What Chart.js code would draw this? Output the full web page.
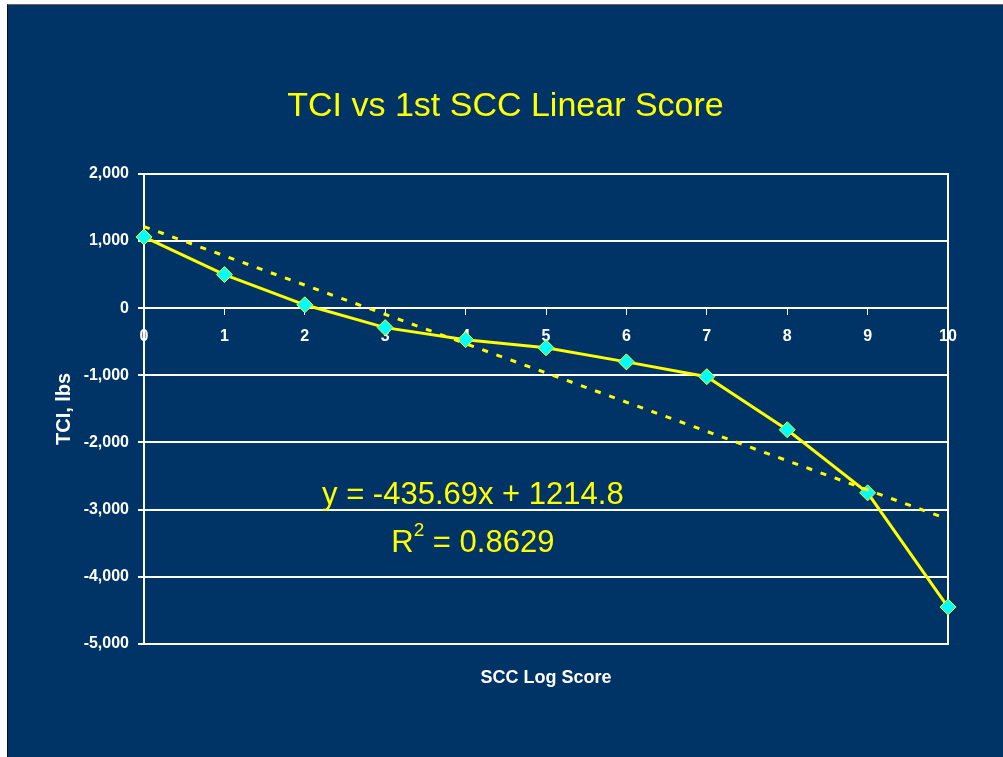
<!DOCTYPE html>
<html>
<head>
<meta charset="utf-8">
<title>TCI vs 1st SCC Linear Score</title>
<script src="https://cdn.jsdelivr.net/npm/chart.js@4.4.1/dist/chart.umd.min.js"></script>
<style>
    html, body { margin: 0; padding: 0; background: #ffffff; overflow: hidden; }
    #slide {
        position: absolute;
        left: 7px;
        top: 4px;
        width: 995px;
        height: 752px;
        background: #003366;
        border-left: 1px solid #111111;
        border-top: 1px solid #666666;
    }
    #chart { display: block; }
</style>
</head>
<body>
<div id="slide">
    <canvas id="chart" width="995" height="752"></canvas>
</div>
<script>
// SCC log score categories
const sccScores = [0, 1, 2, 3, 4, 5, 6, 7, 8, 9, 10];
// TCI (lbs)
const tciValues = [1060, 500, 50, -290, -470, -590, -800, -1020, -1810, -2750, -4450];
// Linear trendline endpoints (y = -435.69x + 1214.8)
const trendX = [0, 10];
const trendY = [1214.8, -3142.1];
// Axis ticks
const yTicks = [2000, 1000, 0, -1000, -2000, -3000, -4000, -5000];

const colors = {
    bg: '#003366',
    yellow: '#FFFF00',
    cyan: '#00FFFF',
    white: '#FFFFFF'
};

const fontFamily = '"Liberation Sans", Arial, sans-serif';

// Draws the x-axis title and the regression equation
const annotations = {
    id: 'annotations',
    afterDraw(chart) {
        const { ctx, scales, chartArea } = chart;
        ctx.save();
        ctx.fillStyle = colors.white;
        ctx.textAlign = 'center';
        ctx.textBaseline = 'middle';
        ctx.font = 'bold 18px ' + fontFamily;
        ctx.fillText('SCC Log Score', (chartArea.left + chartArea.right) / 2, 673);

        const cx = scales.x.getPixelForValue(4.09);
        ctx.fillStyle = colors.yellow;
        ctx.font = '31px ' + fontFamily;
        ctx.fillText('y = -435.69x + 1214.8', cx, scales.y.getPixelForValue(-2790));

        // R squared with superscript
        const y2 = scales.y.getPixelForValue(-3500);
        const left = 'R', rest = ' = 0.8629';
        ctx.font = '31px ' + fontFamily;
        const wL = ctx.measureText(left).width;
        const wR = ctx.measureText(rest).width;
        ctx.font = '19px ' + fontFamily;
        const wS = ctx.measureText('2').width;
        const start = cx - (wL + wS + wR) / 2;
        ctx.textAlign = 'left';
        ctx.font = '31px ' + fontFamily;
        ctx.fillText(left, start, y2);
        ctx.fillText(rest, start + wL + wS, y2);
        ctx.font = '19px ' + fontFamily;
        ctx.fillText('2', start + wL, y2 - 12);
        ctx.restore();
    }
};

const ctx = document.getElementById('chart').getContext('2d');

new Chart(ctx, {
    type: 'scatter',
    data: {
        datasets: [
            {
                label: 'TCI',
                data: sccScores.map((x, i) => ({ x, y: tciValues[i] })),
                showLine: true,
                borderColor: colors.yellow,
                borderWidth: 3,
                pointStyle: 'rectRot',
                pointRadius: 8,
                pointBackgroundColor: colors.cyan,
                pointBorderColor: colors.yellow,
                pointBorderWidth: 1,
                clip: false,
                order: 1
            },
            {
                label: 'Linear trend',
                data: trendX.map((x, i) => ({ x, y: trendY[i] })),
                showLine: true,
                borderColor: colors.yellow,
                borderWidth: 3,
                borderDash: [6, 9],
                pointRadius: 0,
                order: 0
            }
        ]
    },
    options: {
        responsive: false,
        animation: false,
        layout: {
            padding: { top: 0, bottom: 113, left: 0, right: 0 }
        },
        plugins: {
            legend: { display: false },
            tooltip: { enabled: false },
            title: {
                display: true,
                text: 'TCI vs 1st SCC Linear Score',
                color: colors.yellow,
                font: { family: fontFamily, size: 34, weight: 'normal' },
                padding: { top: 81, bottom: 47 }
            }
        },
        scales: {
            x: {
                type: 'linear',
                position: { y: 0 },
                min: 0,
                max: 10,
                ticks: {
                    stepSize: 1,
                    color: colors.white,
                    font: { family: fontFamily, size: 16, weight: 'bold' },
                    padding: 13,
                    maxRotation: 0
                },
                grid: {
                    drawOnChartArea: false,
                    drawTicks: true,
                    tickLength: 6,
                    color: colors.white,
                    lineWidth: 1
                },
                border: { display: true, color: colors.white, width: 2 }
            },
            y: {
                type: 'linear',
                position: 'left',
                min: -5000,
                max: 2000,
                afterBuildTicks: (scale) => {
                    scale.ticks = yTicks.map(v => ({ value: v }));
                },
                afterFit: (scale) => { scale.width = 136; },
                ticks: {
                    color: colors.white,
                    font: { family: fontFamily, size: 16, weight: 'bold' },
                    padding: 9,
                    callback: (v) => Number(v).toLocaleString('en-US')
                },
                grid: {
                    color: colors.white,
                    lineWidth: 2,
                    drawTicks: true,
                    tickLength: 6
                },
                border: { display: true, color: colors.white, width: 2 },
                title: {
                    display: true,
                    text: 'TCI, lbs',
                    color: colors.white,
                    font: { family: fontFamily, size: 20, weight: 'bold' },
                    padding: { top: 44, bottom: 0 }
                }
            },
            yRight: {
                type: 'linear',
                position: 'right',
                min: -5000,
                max: 2000,
                afterFit: (scale) => { scale.width = 55; },
                ticks: { display: false },
                grid: { drawOnChartArea: false, drawTicks: false },
                border: { display: true, color: colors.white, width: 2 }
            }
        }
    },
    plugins: [annotations]
});
</script>
</body>
</html>
